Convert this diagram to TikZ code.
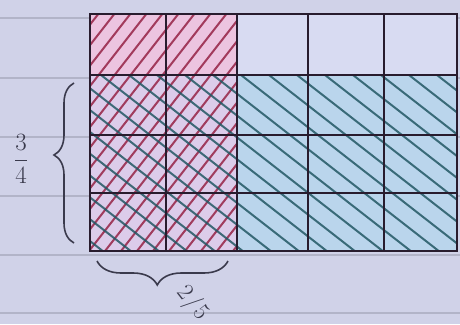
\documentclass[tikz,border=0pt]{standalone}
\usetikzlibrary{decorations.pathreplacing}
\definecolor{paper}{RGB}{208,210,232}
\definecolor{ruledc}{RGB}{178,180,200}
\definecolor{plaincell}{RGB}{216,219,242}
\definecolor{pinkcell}{RGB}{236,196,224}
\definecolor{crosscell}{RGB}{220,204,234}
\definecolor{bluecell}{RGB}{186,213,236}
\definecolor{gridc}{RGB}{40,28,46}
\definecolor{redh}{RGB}{150,35,70}
\definecolor{tealh}{RGB}{35,88,100}
\definecolor{pencil}{RGB}{58,58,76}
\tikzset{
  ruled/.style={draw=ruledc, line width=1.2pt},
  gridline/.style={draw=gridc, line width=2.8pt, line cap=rect},
  redhatch/.style={draw=redh, line width=2pt, opacity=0.85},
  bluehatch/.style={draw=tealh, line width=2pt, opacity=0.85},
  bracestyle/.style={draw=pencil, line width=1.6pt, decorate},
  label/.style={text=pencil, inner sep=0pt}
}
\begin{document}
\begin{tikzpicture}[x=1pt,y=-1pt]
\useasboundingbox (0,0) rectangle (460,324);
\fill[paper] (0,0) rectangle (460,324);
\foreach \y in {18,78,137,196,255,313} \draw[ruled] (0,\y) -- (460,\y);
% cell fills
\fill[plaincell] (237,14) rectangle (457,75);
\fill[pinkcell] (90,14) rectangle (237,75);
\fill[crosscell] (90,75) rectangle (237,251);
\fill[bluecell] (237,75) rectangle (457,251);
% red hatching
\begin{scope}
\clip (90,14) rectangle (237,251);
\foreach \o in {-110,-94,...,250} \draw[redhatch] (\o,260) -- ++(197,-252);
\end{scope}
% blue hatching
\begin{scope}
\clip (90,75) rectangle (457,251);
\foreach \o in {-160,-132,...,470} \draw[bluehatch] (\o,68) -- ++(236,184);
\end{scope}
% grid
\foreach \x in {90,166,237,308,384,457} \draw[gridline] (\x,14) -- (\x,251);
\foreach \y in {14,75,135,193,251} \draw[gridline] (90,\y) -- (457,\y);
% braces
\coordinate (lbtop) at (74,83);
\coordinate (lbbot) at (74,243);
\draw[bracestyle, decoration={brace, mirror, amplitude=20pt, aspect=0.45}] (lbtop) -- (lbbot);
\coordinate (bbl) at (97,261);
\coordinate (bbr) at (228,261);
\draw[bracestyle, decoration={brace, mirror, amplitude=24pt, aspect=0.46}] (bbl) -- (bbr);
% labels
\node[label, font=\fontsize{38}{38}\selectfont] (frac34) at (21,159) {$\displaystyle\frac{3}{4}$};
\node[label, font=\fontsize{24}{24}\selectfont, rotate=-52] (frac25) at (193,303) {2\kern2pt/\kern2pt5};
\end{tikzpicture}
\end{document}
